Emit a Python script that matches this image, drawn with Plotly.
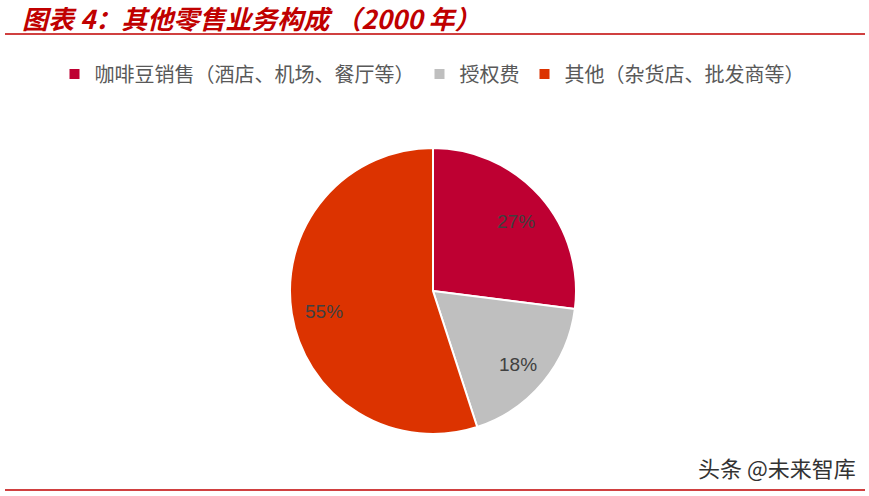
import math
import plotly.graph_objects as go

labels = ["咖啡豆销售（酒店、机场、餐厅等）", "授权费", "其他（杂货店、批发商等）"]
values = [27, 18, 55]
colors = ["#BE0032", "#BFBFBF", "#DC3300"]

W, H = 869, 496
cx, cy, r = 433, 291, 143

fig = go.Figure(go.Pie(
    labels=labels, values=values, sort=False, direction="clockwise", rotation=0,
    marker=dict(colors=colors, line=dict(color="white", width=2)),
    textinfo="none",
    domain=dict(x=[(cx - r)/W, (cx + r)/W], y=[1-(cy + r)/H, 1-(cy - r)/H]),
    hoverinfo="label+percent",
))

annotations = []
total = sum(values)
cum = 0
for v in values:
    mid = (cum + v/2) / total * 2 * math.pi
    cum += v
    lx = cx + 0.77 * r * math.sin(mid)
    ly = cy - 0.77 * r * math.cos(mid) + 3
    annotations.append(dict(text=f"{round(v/total*100)}%", x=lx/W, y=1-ly/H, xref="paper", yref="paper",
                            showarrow=False, xanchor="center", yanchor="middle",
                            font=dict(family="Liberation Sans, Arial", size=19, color="#404040")))

annotations += [
    dict(text="<b><i>图表 4：其他零售业务构成 （2000 年）</i></b>", x=20/W, y=1-18/H,
         xref="paper", yref="paper", xanchor="left", yanchor="middle", showarrow=False,
         font=dict(family="Noto Sans CJK SC", size=26, color="#C00000")),
    dict(text="头条 @未来智库", x=777/W, y=1-467/H, xref="paper", yref="paper",
         xanchor="center", yanchor="middle", showarrow=False,
         font=dict(family="Noto Sans CJK SC", size=22, color="#333333")),
]

fig.update_layout(
    width=W, height=H, margin=dict(l=0, r=0, t=0, b=0),
    paper_bgcolor="white", plot_bgcolor="white",
    showlegend=True,
    legend=dict(orientation="h", x=432/W, xanchor="center", y=1-74/H, yanchor="middle",
                font=dict(family="Noto Sans CJK SC", size=20, color="#595959"),
                itemwidth=30, traceorder="normal"),
    annotations=annotations,
    shapes=[
        dict(type="line", xref="paper", yref="paper", x0=5/W, x1=865/W, y0=1-34/H, y1=1-34/H,
             line=dict(color="#C00000", width=1.5)),
        dict(type="line", xref="paper", yref="paper", x0=5/W, x1=865/W, y0=1-490/H, y1=1-490/H,
             line=dict(color="#C00000", width=1.5)),
    ],
)

fig.write_html("out.html", config={"displayModeBar": False},
               post_script="document.body.style.margin='0';document.body.style.overflow='hidden';")
